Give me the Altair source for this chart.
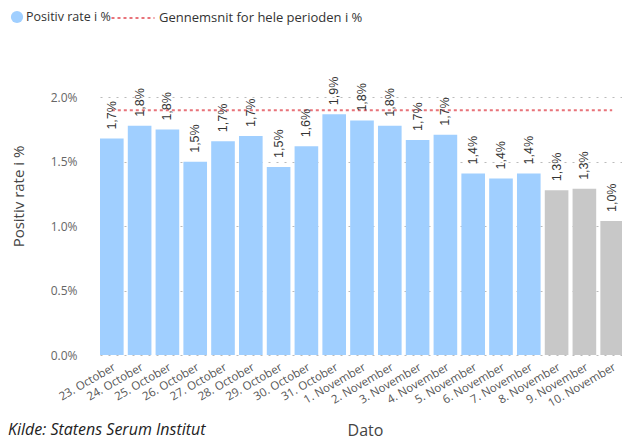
import altair as alt
import pandas as pd

dates = ["23. October", "24. October", "25. October", "26. October", "27. October",
         "28. October", "29. October", "30. October", "31. October", "1. November",
         "2. November", "3. November", "4. November", "5. November", "6. November",
         "7. November", "8. November", "9. November", "10. November"]
rates = [1.68, 1.78, 1.75, 1.50, 1.66, 1.70, 1.46, 1.62, 1.87, 1.82,
         1.78, 1.67, 1.71, 1.41, 1.37, 1.41, 1.28, 1.29, 1.04]
status = ["Positiv rate i %"] * 16 + ["Foreløbig"] * 3
average = 1.90
avg_label = "Gennemsnit for hele perioden i %"

df = pd.DataFrame({"Dato": dates, "rate": rates, "status": status})
df["label"] = df["rate"].map(lambda v: f"{v:.1f}%".replace(".", ","))
avg_df = pd.DataFrame({"Dato": [dates[0]], "Dato_end": [dates[-1]], "avg": [average], "serie": [avg_label]})
src_df = pd.DataFrame({"t": ["Kilde: Statens Serum Institut"]})

FONT = "Open Sans"

x_scale = alt.Scale(domain=dates, range=[12, 536], paddingInner=0.15, paddingOuter=0)

x_enc = alt.X("Dato:O", scale=x_scale,
              axis=alt.Axis(title="Dato", labelAngle=-30, labelAlign="right", labelBaseline="top",
                            labelPadding=6, labelFontSize=11.5, labelColor="#555555", labelFont=FONT,
                            ticks=False, domain=False, titleFont=FONT, titleFontSize=16,
                            titleFontWeight="normal", titleColor="#444444",
                            titleX=277, titleY=75, titleBaseline="middle"))

y_scale = alt.Scale(domain=[0, 2.5])

bars = alt.Chart(df).mark_bar().encode(
    x=x_enc,
    y=alt.Y("rate:Q", scale=y_scale,
            axis=alt.Axis(title="Positiv rate i %", values=[0, 0.5, 1.0, 1.5, 2.0],
                          labelExpr="format(datum.value, '.1f') + '%'",
                          labelFont=FONT, labelFontSize=12, labelColor="#666666",
                          labelPadding=11, ticks=False, domain=False,
                          grid=True, gridDash=[2, 6], gridColor="#bbbbbb", gridWidth=1,
                          titleFont=FONT, titleFontSize=15, titleFontWeight="normal",
                          titleColor="#444444", titleX=-70, titleY=163, titleAngle=-90,
                          titleAlign="center", titleBaseline="middle")),
    color=alt.Color("status:N",
                    scale=alt.Scale(domain=["Positiv rate i %", "Foreløbig"],
                                    range=["#A0CFFF", "#C8C8C8"]),
                    legend=alt.Legend(title=None, values=["Positiv rate i %"], orient="none",
                                      legendX=-78, legendY=-23, symbolType="circle",
                                      symbolSize=150, labelFont=FONT, labelFontSize=12.5,
                                      labelColor="#333333", labelOffset=2, labelLimit=400)),
)

labels = alt.Chart(df).mark_text(angle=270, align="left", baseline="middle", dx=9,
                                 font="Liberation Sans", fontSize=12.5, color="#333333").encode(
    x=alt.X("Dato:O", scale=x_scale),
    y=alt.Y("rate:Q", scale=y_scale),
    text="label:N",
)

rule = alt.Chart(avg_df).mark_rule(strokeWidth=2, color="#E8737A").encode(
    x=alt.X("Dato:O", scale=x_scale),
    x2="Dato_end:O",
    y=alt.Y("avg:Q", scale=y_scale),
    strokeDash=alt.StrokeDash("serie:N", scale=alt.Scale(range=[[3, 3]]),
                              legend=alt.Legend(title=None, orient="none", legendX=22, legendY=-38,
                                                symbolType="stroke", symbolStrokeColor="#E8737A",
                                                symbolStrokeWidth=2, symbolSize=1850,
                                                labelFont=FONT, labelFontSize=13,
                                                labelColor="#333333", labelOffset=3, labelLimit=400)),
)

source = alt.Chart(src_df).mark_text(align="left", baseline="middle", font=FONT, fontSize=16,
                                     fontStyle="italic", color="#222222").encode(
    x=alt.value(-80), y=alt.value(397), text="t:N")

chart = alt.layer(bars, rule, labels, source).properties(
    width=534, height=322,
    padding={"left": 80, "top": 25, "right": 0, "bottom": 86},
    autosize=alt.AutoSizeParams(type="none"),
).configure_view(stroke=None).configure_legend(padding=0)

chart.save("out.html", embed_options={"renderer": "svg", "actions": False})
